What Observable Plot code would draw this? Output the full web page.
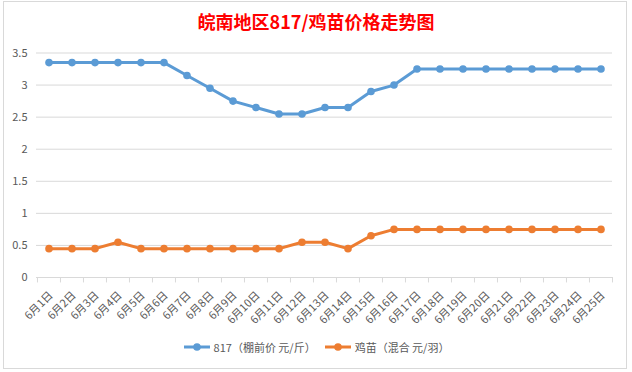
<!DOCTYPE html>
<html>
<head>
<meta charset="utf-8">
<script src="https://cdn.jsdelivr.net/npm/d3@7"></script>
<script src="https://cdn.jsdelivr.net/npm/@observablehq/plot@0.6"></script>
<style>
  html, body { margin: 0; padding: 0; background: #fff; }
  #wrap { position: relative; width: 632px; height: 372px; overflow: hidden; background: #fff;
          font-family: "Noto Sans CJK SC", "Noto Sans", sans-serif; }
  #border { position: absolute; left: 3px; top: 1px; width: 622px; height: 366px; border: 1px solid #d9d9d9; box-sizing: content-box; }
  #title { position: absolute; left: 0; width: 632px; top: 8px; text-align: center; color: #ff0000;
           font-weight: bold; font-size: 18px; line-height: 26px; }
  #chart { position: absolute; left: 0; top: 0; }
  #legend { position: absolute; left: 0; width: 632px; top: 339px; display: flex; justify-content: center;
            align-items: center; font-size: 11px; color: #595959; line-height: 16px; }
  .item { display: flex; align-items: center; margin: 0 4px; }
  .item svg { margin-right: 3px; }
</style>
</head>
<body>
<div id="wrap">
  <div id="border"></div>
  <div id="chart"></div>
  <div id="title"></div>
  <div id="legend"></div>
</div>
<script>
const title = "皖南地区817/鸡苗价格走势图";
const days = ["6月1日","6月2日","6月3日","6月4日","6月5日","6月6日","6月7日","6月8日","6月9日","6月10日",
  "6月11日","6月12日","6月13日","6月14日","6月15日","6月16日","6月17日","6月18日","6月19日","6月20日",
  "6月21日","6月22日","6月23日","6月24日","6月25日"];
const price817 = [3.35,3.35,3.35,3.35,3.35,3.35,3.15,2.95,2.75,2.65,2.55,2.55,2.65,2.65,2.9,3.0,
  3.25,3.25,3.25,3.25,3.25,3.25,3.25,3.25,3.25];
const chick = [0.45,0.45,0.45,0.55,0.45,0.45,0.45,0.45,0.45,0.45,0.45,0.55,0.55,0.45,0.65,0.75,
  0.75,0.75,0.75,0.75,0.75,0.75,0.75,0.75,0.75];
const seriesNames = ["817（棚前价 元/斤）", "鸡苗（混合 元/羽）"];
const seriesColors = ["#5b9bd5", "#ed7d31"];
const yTicks = [0, 0.5, 1, 1.5, 2, 2.5, 3, 3.5];

const rows = [];
days.forEach((d, i) => {
  rows.push({day: d, value: price817[i], series: seriesNames[0]});
  rows.push({day: d, value: chick[i], series: seriesNames[1]});
});

const W = 632, H = 372;
const mL = 36, mR = 20, mT = 52.5, mB = 95;
const bw = (W - mL - mR) / days.length;

const chart = Plot.plot({
  width: W, height: H,
  marginLeft: mL, marginRight: mR, marginTop: mT, marginBottom: mB,
  style: {fontFamily: '"Noto Sans CJK SC", "Noto Sans", sans-serif', background: "transparent"},
  x: {type: "band", domain: days, padding: 0, axis: null},
  y: {domain: [0, 3.5], axis: null},
  color: {domain: seriesNames, range: seriesColors},
  marks: [
    Plot.gridY(yTicks.filter(t => t > 0), {stroke: "#d9d9d9", strokeOpacity: 1, strokeWidth: 1}),
    Plot.axisY(yTicks, {tickSize: 0, tickPadding: 9, fontSize: 11, fill: "#595959",
      tickFormat: d => String(d), label: null}),
    Plot.ruleY([0], {stroke: "#d9d9d9", strokeWidth: 1}),
    Plot.ruleX(days, {x: d => d, dx: -bw / 2, y1: 0, y2: -0.085, stroke: "#d9d9d9"}),
    Plot.ruleX([days[days.length - 1]], {x: d => d, dx: bw / 2, y1: 0, y2: -0.085, stroke: "#d9d9d9"}),
    Plot.text(days, {x: d => d, y: 0, text: d => d, rotate: -45, textAnchor: "end",
      dx: 2, dy: 16, fontSize: 11, fill: "#595959"}),
    Plot.line(rows, {x: "day", y: "value", z: "series", stroke: "series", strokeWidth: 3,
      strokeLinejoin: "round", strokeLinecap: "round"}),
    Plot.dot(rows, {x: "day", y: "value", fill: "series", stroke: "series", r: 3.8, strokeWidth: 0})
  ]
});
document.getElementById("chart").appendChild(chart);
document.getElementById("title").textContent = title;

const legend = document.getElementById("legend");
seriesNames.forEach((name, i) => {
  const item = document.createElement("div");
  item.className = "item";
  item.innerHTML = `<svg width="28" height="10"><line x1="1" y1="5" x2="27" y2="5" stroke="${seriesColors[i]}" stroke-width="3"/><circle cx="14" cy="5" r="3.8" fill="${seriesColors[i]}"/></svg><span>${name}</span>`;
  legend.appendChild(item);
});
</script>
</body>
</html>
